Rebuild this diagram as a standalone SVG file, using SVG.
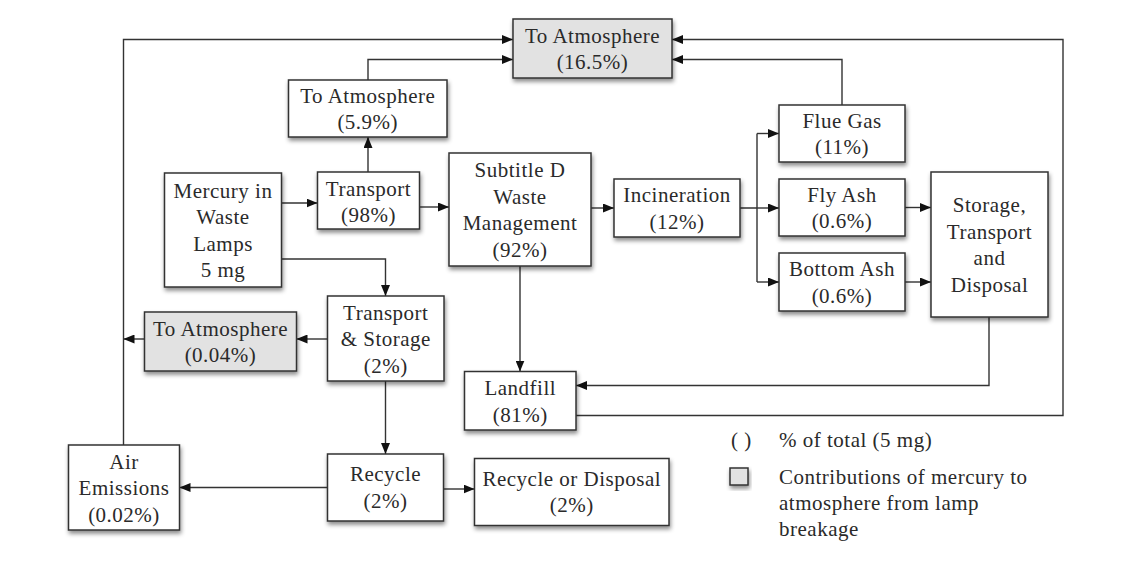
<svg xmlns="http://www.w3.org/2000/svg" width="1123" height="561" viewBox="0 0 1123 561">
<style>
.box{fill:#fff;stroke:#333;stroke-width:1.5;filter:url(#sh)}
.gray{fill:#e2e2e2}
.t{font-family:"Liberation Serif","Times New Roman",serif;font-size:21px;letter-spacing:0.5px;fill:#2a2a2a;text-anchor:middle}
.l{text-anchor:start}
.c{fill:none;stroke:#333;stroke-width:1.4}
.a{marker-end:url(#arr)}
</style>
<defs>
<filter id="sh" x="-20%" y="-20%" width="140%" height="150%">
<feDropShadow dx="1" dy="3" stdDeviation="2" flood-color="#000" flood-opacity="0.45"/>
</filter>
<marker id="arr" markerUnits="userSpaceOnUse" markerWidth="11" markerHeight="9" refX="11" refY="4.5" orient="auto">
<path d="M0,0 L11,4.5 L0,9 z" fill="#111"/>
</marker>
</defs>
<rect width="1123" height="561" fill="#fff"/>
<g id="connectors">
<path class="c a" d="M123.5,445 V39.5 H513"/>
<path class="c a" d="M368,80 V59.5 H513"/>
<path class="c a" d="M368,172 V137"/>
<path class="c a" d="M281.5,203 H317.5"/>
<path class="c a" d="M419.5,207 H449"/>
<path class="c a" d="M591,208 H614"/>
<path class="c" d="M740,208 H757 M757,133.5 V282"/>
<path class="c a" d="M757,133.5 H779"/>
<path class="c a" d="M757,208 H779"/>
<path class="c a" d="M757,282 H779"/>
<path class="c a" d="M905,207.5 H931"/>
<path class="c a" d="M905,282 H931"/>
<path class="c a" d="M842,105 V59.5 H672"/>
<path class="c a" d="M576,415.5 H1063 V39.5 H672"/>
<path class="c a" d="M989,317 V385.5 H576"/>
<path class="c a" d="M520,266 V371.5"/>
<path class="c a" d="M281.5,259 H385.5 V296"/>
<path class="c a" d="M327.5,339 H296.5"/>
<path class="c a" d="M144.5,339 H123.5"/>
<path class="c a" d="M385.5,381 V454"/>
<path class="c a" d="M327.5,487.5 H179.5"/>
<path class="c a" d="M443.5,489 H474.5"/>
</g>
<g id="atm_total">
<rect class="box gray" x="513" y="19" width="159" height="59"/>
<text class="t" x="592.5" y="42.75">To Atmosphere</text>
<text class="t" x="592.5" y="69.25">(16.5%)</text>
</g>
<g id="atm_transport">
<rect class="box" x="288.5" y="80" width="158.5" height="57"/>
<text class="t" x="367.75" y="102.75">To Atmosphere</text>
<text class="t" x="367.75" y="129.25">(5.9%)</text>
</g>
<g id="mercury">
<rect class="box" x="164.5" y="173" width="117" height="114"/>
<text class="t" x="223" y="197.75">Mercury in</text>
<text class="t" x="223" y="224.25">Waste</text>
<text class="t" x="223" y="250.75">Lamps</text>
<text class="t" x="223" y="277.25">5 mg</text>
</g>
<g id="transport">
<rect class="box" x="317.5" y="172" width="102" height="57"/>
<text class="t" x="368.5" y="195.5">Transport</text>
<text class="t" x="368.5" y="222">(98%)</text>
</g>
<g id="subtitle_d">
<rect class="box" x="449" y="153" width="142" height="113"/>
<text class="t" x="520" y="177.25">Subtitle D</text>
<text class="t" x="520" y="203.75">Waste</text>
<text class="t" x="520" y="230.25">Management</text>
<text class="t" x="520" y="256.75">(92%)</text>
</g>
<g id="incineration">
<rect class="box" x="614" y="179" width="126" height="58"/>
<text class="t" x="677" y="202.25">Incineration</text>
<text class="t" x="677" y="228.75">(12%)</text>
</g>
<g id="flue_gas">
<rect class="box" x="779" y="105" width="126" height="57"/>
<text class="t" x="842" y="127.75">Flue Gas</text>
<text class="t" x="842" y="154.25">(11%)</text>
</g>
<g id="fly_ash">
<rect class="box" x="779" y="179" width="126" height="57"/>
<text class="t" x="842" y="201.75">Fly Ash</text>
<text class="t" x="842" y="228.25">(0.6%)</text>
</g>
<g id="bottom_ash">
<rect class="box" x="779" y="253" width="126" height="58"/>
<text class="t" x="842" y="276.25">Bottom Ash</text>
<text class="t" x="842" y="302.75">(0.6%)</text>
</g>
<g id="storage">
<rect class="box" x="931" y="172" width="117" height="145"/>
<text class="t" x="989.5" y="212.25">Storage,</text>
<text class="t" x="989.5" y="238.75">Transport</text>
<text class="t" x="989.5" y="265.25">and</text>
<text class="t" x="989.5" y="291.75">Disposal</text>
</g>
<g id="transport_storage">
<rect class="box" x="327.5" y="296" width="116.5" height="85"/>
<text class="t" x="385.75" y="319.5">Transport</text>
<text class="t" x="385.75" y="346">&amp; Storage</text>
<text class="t" x="385.75" y="372.5">(2%)</text>
</g>
<g id="atm_storage">
<rect class="box gray" x="144.5" y="312" width="152" height="59"/>
<text class="t" x="220.5" y="335.75">To Atmosphere</text>
<text class="t" x="220.5" y="362.25">(0.04%)</text>
</g>
<g id="landfill">
<rect class="box" x="464.5" y="371.5" width="111.5" height="58.5"/>
<text class="t" x="520.25" y="395">Landfill</text>
<text class="t" x="520.25" y="421.5">(81%)</text>
</g>
<g id="air_emissions">
<rect class="box" x="68.5" y="445" width="111" height="85"/>
<text class="t" x="124" y="468.5">Air</text>
<text class="t" x="124" y="495">Emissions</text>
<text class="t" x="124" y="521.5">(0.02%)</text>
</g>
<g id="recycle">
<rect class="box" x="327.5" y="454" width="116" height="67"/>
<text class="t" x="385.5" y="481.25">Recycle</text>
<text class="t" x="385.5" y="507.75">(2%)</text>
</g>
<g id="recycle_disposal">
<rect class="box" x="474.5" y="458.5" width="194.5" height="67"/>
<text class="t" x="571.75" y="485.75">Recycle or Disposal</text>
<text class="t" x="571.75" y="512.25">(2%)</text>
</g>
<g id="legend">
<text class="t l" x="731" y="447">( )</text>
<text class="t l" x="779" y="447">% of total (5 mg)</text>
<rect class="box gray" x="730" y="468" width="18" height="17"/>
<text class="t l" x="779" y="484">Contributions of mercury to</text>
<text class="t l" x="779" y="510">atmosphere from lamp</text>
<text class="t l" x="779" y="536">breakage</text>
</g>
</svg>
